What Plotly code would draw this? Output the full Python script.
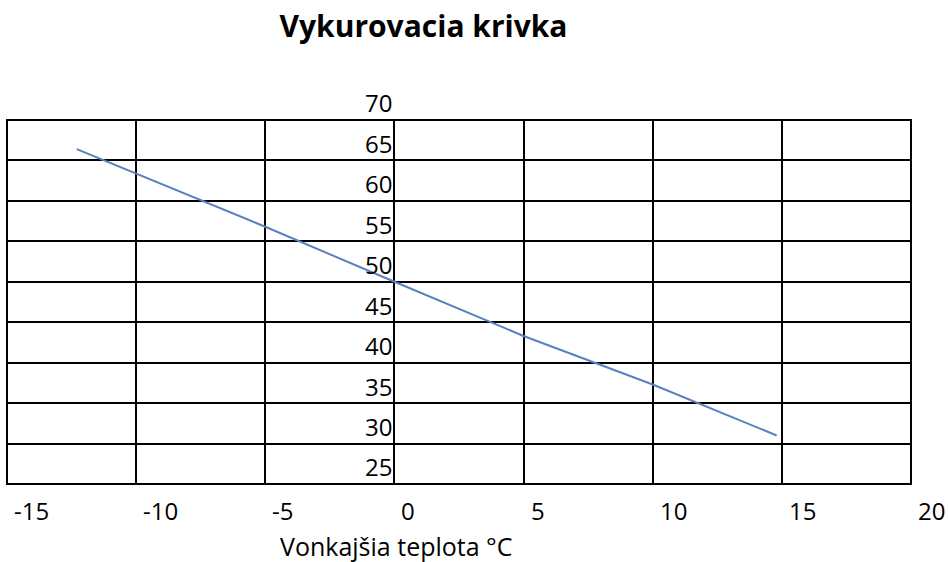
import plotly.graph_objects as go

title_text = "Vykurovacia krivka"
x_title = "Vonkajšia teplota °C"

outdoor_temp = [-12.3, -10, -5, 0, 5, 10, 14.8]
flow_temp = [66.4, 63.4, 56.8, 50.0, 43.3, 37.3, 31.0]

x_ticks = [-15, -10, -5, 0, 5, 10, 15, 20]
y_ticks = [25, 30, 35, 40, 45, 50, 55, 60, 65, 70]

FONT = "Open Sans, Noto Sans, Liberation Sans, sans-serif"

fig = go.Figure()
fig.add_trace(go.Scatter(
    x=outdoor_temp, y=flow_temp, mode="lines",
    line=dict(color="#5B80BF", width=2),
    showlegend=False, hoverinfo="skip",
))

fig.update_layout(
    width=948, height=562,
    margin=dict(l=7, r=37, t=120, b=78),
    paper_bgcolor="white", plot_bgcolor="white",
    font=dict(family=FONT, color="black", size=24),
    title=dict(text=f"<b>{title_text}</b>", x=423.5/948, xanchor="center",
               y=1 - 26/562, yanchor="middle", yref="container",
               font=dict(size=30, family=FONT, color="black")),
)

fig.update_xaxes(
    range=[x_ticks[0], x_ticks[-1]], tickvals=x_ticks, showticklabels=False,
    showgrid=True, gridcolor="black", gridwidth=2, zeroline=False,
    showline=False, ticks="",
)
fig.update_yaxes(
    range=[y_ticks[0], y_ticks[-1]], tickvals=y_ticks,
    anchor="free", position=(0 - x_ticks[0]) / (x_ticks[-1] - x_ticks[0]),
    side="left", showgrid=True, gridcolor="black", gridwidth=2,
    zeroline=False, showline=False, ticks="",
    ticklabelshift=-16, ticklabelstandoff=2,
    tickfont=dict(size=24, family=FONT, color="black"),
)

fig.add_shape(type="rect", xref="paper", yref="paper", x0=0, x1=1, y0=0, y1=1,
              line=dict(color="black", width=2), layer="above")

for v in x_ticks:
    fig.add_annotation(x=v, xref="x", y=0, yref="paper", text=str(v),
                       showarrow=False, xanchor="left", yanchor="top",
                       xshift=5, yshift=-8,
                       font=dict(size=24, family=FONT, color="black"))

fig.add_annotation(x=(396 - 7) / 904, xref="paper", y=-0.17, yref="paper",
                   text=x_title, showarrow=False, xanchor="center", yanchor="middle",
                   font=dict(size=25, family=FONT, color="black"))

fig.write_html("out.html", config={"displayModeBar": False},
               post_script="document.body.style.margin='0px';document.body.style.overflow='hidden';")
